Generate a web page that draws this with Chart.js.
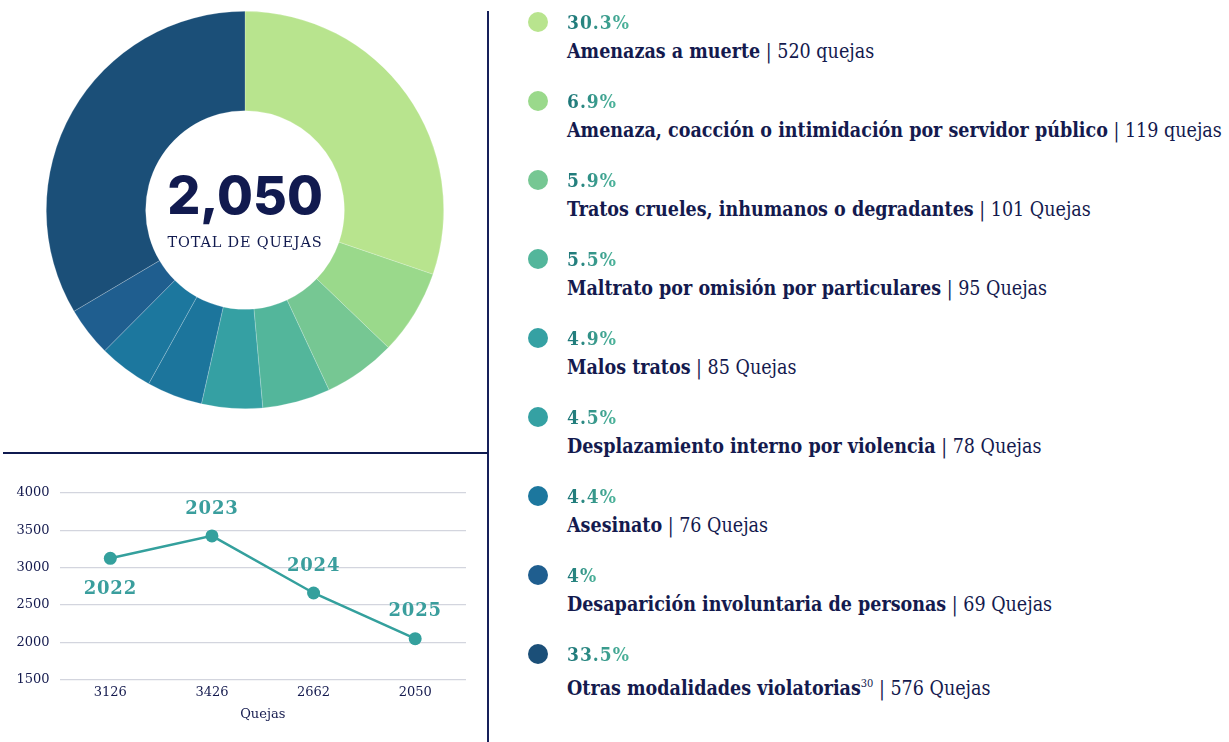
<!DOCTYPE html>
<html>
<head>
<meta charset="utf-8">
<script src="https://cdn.jsdelivr.net/npm/chart.js@4.4.1/dist/chart.umd.min.js"></script>
<style>
  body { margin: 0; background: #fff; width: 1229px; height: 742px; position: relative; overflow: hidden; }
  #donut-box { position: absolute; left: 46px; top: 11px; width: 398px; height: 398px; }
  #line-box { position: absolute; left: 0; top: 470px; width: 480px; height: 254px; }
  .vline { position: absolute; left: 487px; top: 11px; width: 2px; height: 731px; background: #16205a; }
  .hline { position: absolute; left: 3px; top: 452px; width: 485px; height: 2px; background: #0f1a50; }
  .item { position: absolute; left: 528px; }
  .dot { position: absolute; left: 0; top: 4px; width: 20px; height: 20px; border-radius: 50%; }
  .pct { position: absolute; left: 39px; top: 0; height: 28px; line-height: 28px; white-space: nowrap;
         font-family: 'DejaVu Serif', serif; font-stretch: condensed; font-weight: bold; font-size: 19px; letter-spacing: 1px;
         background: linear-gradient(90deg, #1b7477, #4db59b); -webkit-background-clip: text; background-clip: text; color: transparent; }
  .name { position: absolute; left: 39px; top: 30px; height: 28px; line-height: 28px; white-space: nowrap;
          font-family: 'DejaVu Serif', serif; font-stretch: condensed; font-size: 19.5px; color: #141a4e; }
  .name b { font-weight: bold; }
  .name sup { font-size: 11px; }
</style>
</head>
<body>
<div id="donut-box"><canvas id="donut"></canvas></div>
<div class="vline"></div>
<div class="hline"></div>
<div id="line-box"><canvas id="line"></canvas></div>
<div id="legend"></div>
<script>
var categories = [
  'Amenazas a muerte',
  'Amenaza, coacción o intimidación por servidor público',
  'Tratos crueles, inhumanos o degradantes',
  'Maltrato por omisión por particulares',
  'Malos tratos',
  'Desplazamiento interno por violencia',
  'Asesinato',
  'Desaparición involuntaria de personas',
  'Otras modalidades violatorias'
];
var quejas = [520, 119, 101, 95, 85, 78, 76, 69, 576];
var percents = ['30.3%', '6.9%', '5.9%', '5.5%', '4.9%', '4.5%', '4.4%', '4%', '33.5%'];
var unitWords = ['quejas', 'quejas', 'Quejas', 'Quejas', 'Quejas', 'Quejas', 'Quejas', 'Quejas', 'Quejas'];
var footnotes = ['', '', '', '', '', '', '', '', '30'];
var sliceColors = ['#b8e48e', '#9ad98b', '#76c793', '#53b69b', '#35a0a3', '#1c759c', '#1c779e', '#1f5e8f', '#1b4f78'];
var dotColors = ['#b8e48e', '#9ad98b', '#76c793', '#53b69b', '#35a1a3', '#35a1a3', '#1c779e', '#1f5e8f', '#1b4f78'];
var totalLabel = '2,050';
var totalCaption = 'TOTAL DE QUEJAS';

var years = ['2022', '2023', '2024', '2025'];
var yearQuejas = [3126, 3426, 2662, 2050];
var yearLabelSide = ['below', 'above', 'above', 'above'];
var yTicks = [1500, 2000, 2500, 3000, 3500, 4000];

var navy = '#141a4e';
var serif = "'DejaVu Serif', serif";

// leyenda de la derecha
var legend = document.getElementById('legend');
for (var i = 0; i < categories.length; i++) {
  var item = document.createElement('div');
  item.className = 'item';
  item.style.top = (8 + i * 79) + 'px';
  var sup = footnotes[i] ? '<sup>' + footnotes[i] + '</sup>' : '';
  item.innerHTML =
    '<div class="dot" style="background:' + dotColors[i] + '"></div>' +
    '<div class="pct">' + percents[i] + '</div>' +
    '<div class="name"><b>' + categories[i] + '</b>' + sup + ' | ' + quejas[i] + ' ' + unitWords[i] + '</div>';
  legend.appendChild(item);
}

var centerText = {
  id: 'centerText',
  afterDraw: function (chart) {
    var ctx = chart.ctx;
    var cx = (chart.chartArea.left + chart.chartArea.right) / 2;
    var cy = (chart.chartArea.top + chart.chartArea.bottom) / 2;
    ctx.save();
    ctx.fillStyle = '#111a4f';
    ctx.textAlign = 'center';
    ctx.textBaseline = 'middle';
    ctx.font = '800 52px Inter, sans-serif';
    ctx.fillText(totalLabel, cx, cy - 12);
    ctx.font = '14.5px ' + serif;
    ctx.letterSpacing = '0.8px';
    ctx.fillText(totalCaption, cx, cy + 33);
    ctx.restore();
  }
};

new Chart(document.getElementById('donut'), {
  type: 'doughnut',
  data: {
    labels: categories,
    datasets: [{
      data: quejas,
      backgroundColor: sliceColors,
      borderColor: 'rgba(255,255,255,0.35)',
      borderWidth: 0.6
    }]
  },
  options: {
    responsive: true,
    maintainAspectRatio: false,
    animation: false,
    cutout: '50%',
    layout: { padding: 0 },
    plugins: { legend: { display: false }, tooltip: { enabled: false } }
  },
  plugins: [centerText]
});

var yearLabels = {
  id: 'yearLabels',
  afterDatasetsDraw: function (chart) {
    var ctx = chart.ctx;
    var meta = chart.getDatasetMeta(0);
    ctx.save();
    ctx.font = 'bold 18px ' + serif;
    ctx.letterSpacing = '0.8px';
    ctx.fillStyle = '#3a9e9d';
    ctx.textAlign = 'center';
    ctx.textBaseline = 'middle';
    meta.data.forEach(function (pt, i) {
      var dy = yearLabelSide[i] === 'below' ? 31 : -27;
      ctx.fillText(years[i], pt.x, pt.y + dy);
    });
    ctx.restore();
  }
};

new Chart(document.getElementById('line'), {
  type: 'line',
  data: {
    labels: yearQuejas.map(String),
    datasets: [{
      data: yearQuejas,
      borderColor: '#34a09d',
      backgroundColor: '#34a09d',
      borderWidth: 2.5,
      pointRadius: 6.5,
      pointBackgroundColor: '#34a09d',
      pointBorderWidth: 0,
      tension: 0,
      fill: false
    }]
  },
  options: {
    responsive: true,
    maintainAspectRatio: false,
    animation: false,
    layout: { padding: { top: 23, right: 14, left: 0, bottom: 0 } },
    plugins: { legend: { display: false }, tooltip: { enabled: false } },
    scales: {
      x: {
        offset: true,
        grid: { display: false, drawTicks: false },
        border: { display: false },
        ticks: { color: navy, padding: 5, font: { family: serif, size: 13 } },
        title: { display: true, text: 'Quejas', color: navy, padding: { top: 1, bottom: 2 }, font: { family: serif, size: 13 } }
      },
      y: {
        min: 1500,
        max: 4000,
        afterFit: function (scale) { scale.width = 59.5; },
        afterBuildTicks: function (scale) { scale.ticks = yTicks.map(function (v) { return { value: v }; }); },
        grid: { color: '#d3d5de', lineWidth: 1.2, drawTicks: false },
        border: { display: false },
        ticks: {
          color: navy, padding: 10, font: { family: serif, size: 13 },
          callback: function (v) { return String(v); }
        }
      }
    }
  },
  plugins: [yearLabels]
});
</script>
</body>
</html>
